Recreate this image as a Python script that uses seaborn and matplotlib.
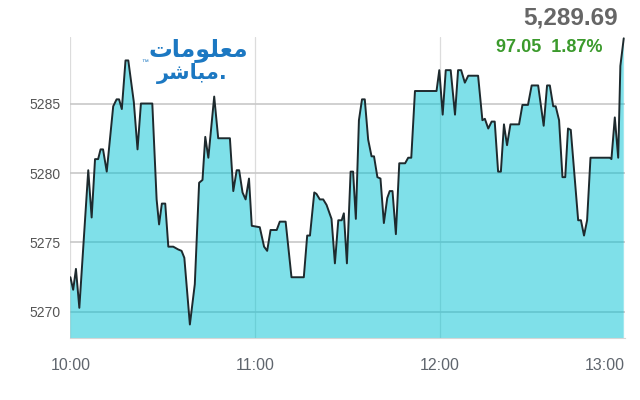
import pandas as pd
import matplotlib
matplotlib.use('Agg')
import matplotlib.pyplot as plt
import seaborn as sns

# minutes after 10:00 and index level
minutos = [0, 0.9, 1.8, 2.9, 5.8, 6.9, 8.0, 9.0, 9.8, 10.6, 11.8, 13.9, 15.0, 15.8,
           16.7, 17.9, 18.8, 20.6, 21.8, 22.9, 26.6, 28.0, 28.8, 29.7, 30.8, 31.8,
           33.4, 35.0, 36.1, 37.0, 38.8, 40.4, 41.8, 42.9, 43.8, 44.8, 46.7, 48.0,
           51.8, 52.9, 54.0, 54.8, 55.9, 56.9, 58.0, 58.9, 61.5, 62.9, 63.9, 65.0,
           67.0, 68.0, 69.9, 71.8, 75.8, 76.9, 77.8, 79.2, 79.9, 81.0, 82.1, 83.2,
           84.8, 85.9, 87.0, 88.1, 88.8, 89.8, 91.0, 91.8, 92.7, 93.7, 94.7, 95.6,
           96.7, 97.8, 98.6, 99.7, 100.7, 101.8, 102.9, 103.7, 104.6, 105.7, 106.8,
           108.7, 109.7, 110.7, 111.9, 118.9, 119.8, 120.9, 121.9, 123.5, 124.9,
           125.9, 126.9, 128.1, 129.2, 132.4, 133.8, 134.6, 135.7, 136.8, 137.8,
           138.9, 139.8, 140.8, 141.8, 142.9, 145.7, 146.8, 148.6, 149.8, 151.9,
           153.7, 154.8, 155.7, 156.8, 157.6, 158.7, 159.8, 160.7, 161.6, 162.5,
           163.8, 164.9, 165.8, 166.8, 167.8, 168.9, 175.2, 175.7, 176.8, 177.9,
           178.6, 179.7]
valores = [5272.5, 5271.6, 5273.1, 5270.3, 5280.2, 5276.8, 5281.0, 5281.0, 5281.7,
           5281.7, 5280.1, 5284.8, 5285.3, 5285.3, 5284.6, 5288.1, 5288.1, 5285.1,
           5281.7, 5285.0, 5285.0, 5278.1, 5276.3, 5277.8, 5277.8, 5274.7, 5274.7,
           5274.5, 5274.4, 5273.9, 5269.1, 5272.0, 5279.3, 5279.5, 5282.6, 5281.1,
           5285.5, 5282.5, 5282.5, 5278.7, 5280.2, 5280.2, 5278.6, 5278.1, 5279.6,
           5276.2, 5276.1, 5274.7, 5274.4, 5275.9, 5275.9, 5276.5, 5276.5, 5272.5,
           5272.5, 5275.5, 5275.5, 5278.6, 5278.5, 5278.1, 5278.1, 5277.7, 5276.7,
           5273.5, 5276.6, 5276.6, 5277.1, 5273.5, 5280.1, 5280.1, 5276.7, 5283.8,
           5285.3, 5285.3, 5282.4, 5281.2, 5281.2, 5279.7, 5279.6, 5276.4, 5278.2,
           5278.7, 5278.7, 5275.6, 5280.7, 5280.7, 5281.1, 5281.1, 5285.9, 5285.9,
           5287.4, 5284.2, 5287.4, 5287.4, 5284.2, 5287.4, 5287.4, 5286.5, 5287.0,
           5287.0, 5283.8, 5283.9, 5283.2, 5283.7, 5283.7, 5280.1, 5280.1, 5283.5,
           5282.0, 5283.5, 5283.5, 5284.9, 5284.9, 5286.3, 5286.3, 5283.4, 5286.3,
           5286.3, 5284.8, 5284.8, 5283.8, 5279.7, 5279.7, 5283.2, 5283.1, 5279.6,
           5276.6, 5276.6, 5275.5, 5276.6, 5281.1, 5281.1, 5281.0, 5284.0, 5281.1,
           5287.7, 5289.69]

horas = ['10:00', '11:00', '12:00', '13:00']
horas_pos = [0, 60, 120, 180]
niveis = [5270, 5275, 5280, 5285]

ultimo = '5,289.69'
variacao = '97.05  1.87%'
# Arabic logo text, pre-shaped (presentation forms, visual order)
logo_1 = '\uFE95\uFE8E\uFEE3\uFEEE\uFEE0\uFECC\uFEE3'   # معلومات
logo_2 = '\uFEAE\uFEB7\uFE8E\uFE92\uFEE3.'              # مباشر.

df = pd.DataFrame({'min': minutos, 'valor': valores})

sns.set_style('white')
plt.rcParams['font.family'] = ['Liberation Sans', 'DejaVu Sans']

fig = plt.figure(figsize=(6.4, 4.0), dpi=100)
ax = fig.add_axes([0.110, 0.154, 0.867, 0.754])

ax.fill_between(df['min'], df['valor'], 5260, color='#00c3d4', alpha=0.5,
                linewidth=0, zorder=2)
sns.lineplot(data=df, x='min', y='valor', color='#1e2a2e', linewidth=1.4,
             ax=ax, zorder=3)

ax.set_xlim(0, 180.2)
ax.set_ylim(5268.1, 5289.8)
ax.set_yticks(niveis)
ax.set_xticks(horas_pos)
ax.set_xticklabels(horas)
ax.set_xlabel('')
ax.set_ylabel('')
ax.set_axisbelow(True)
ax.grid(axis='y', color='#c8c8c8', linewidth=1.2)
ax.grid(axis='x', color='#dcdcdc', linewidth=0.9)

for s in ['left', 'right', 'top']:
    ax.spines[s].set_visible(False)
ax.spines['bottom'].set_color('#d6d6d6')
ax.tick_params(axis='y', length=0, pad=7, labelsize=10, labelcolor='#555555')
ax.tick_params(axis='x', length=0, pad=14, labelsize=11.5, labelcolor='#5f656d')
ax.get_xticklabels()[-1].set_ha('right')

fig.text(0.965, 0.954, ultimo, ha='right', va='center', fontsize=17.5,
         fontweight='bold', color='#666666')
fig.text(0.942, 0.881, variacao, ha='right', va='center', fontsize=13,
         fontweight='bold', color='#3b9a2c')

fig.text(0.3875, 0.875, logo_1, ha='right', va='center', fontsize=17,
         fontweight='bold', color='#1c78c2', family='DejaVu Sans')
fig.text(0.356, 0.816, logo_2, ha='right', va='center', fontsize=15,
         fontweight='bold', color='#1c78c2', family='DejaVu Sans')
fig.text(0.226, 0.845, '\u2122', ha='center', va='center', fontsize=5,
         color='#1c78c2')

fig.savefig('out.png', dpi=100)
